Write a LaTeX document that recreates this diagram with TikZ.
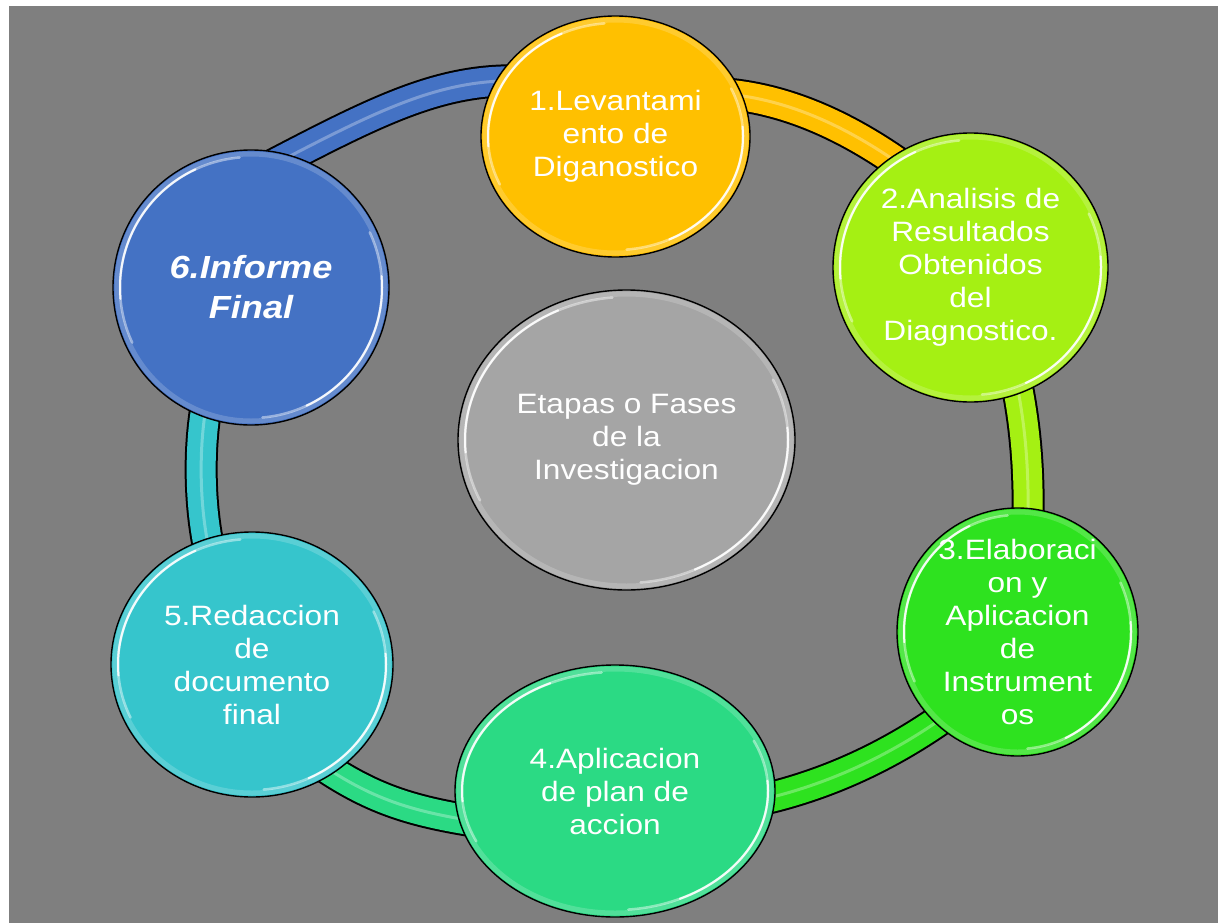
\documentclass[tikz,border=0pt]{standalone}
\usepackage{fontspec}
\setmainfont{Liberation Sans}[FakeStretch=1.13]
\usetikzlibrary{shapes.geometric,calc}
\definecolor{cbg}{HTML}{7F7F7F}
\definecolor{corange}{HTML}{FFC000}
\definecolor{clime}{HTML}{A5F013}
\definecolor{cgreen}{HTML}{2EE21F}
\definecolor{caqua}{HTML}{2BDA84}
\definecolor{cteal}{HTML}{36C5CC}
\definecolor{cblue}{HTML}{4472C4}
\definecolor{cgray}{HTML}{A5A5A5}
\pgfdeclarelayer{back}
\pgfdeclarelayer{tubes}
\pgfsetlayers{back,tubes,main}
\tikzset{
  bubble/.style={ellipse, draw=black, line width=1.4pt, inner sep=0pt, text=white,
    align=center, font=\fontsize{28}{33}\selectfont},
  tubeline/.style={line width=2pt, draw=black, double distance=29pt,
    shorten <=-20pt, shorten >=-20pt},
  tubeshine/.style={line width=3pt, opacity=0.45, shorten <=-20pt, shorten >=-20pt},
  glow/.style={draw=white, line width=5pt, opacity=0.18},
  glossA/.style={draw=white, line width=2.5pt, opacity=0.45, line cap=round},
  glossB/.style={draw=white, line width=2pt, opacity=0.9, line cap=round},
}
\newcommand\tubeseg[2]{%
  \draw[tubeline, double=#1] #2;
  \draw[tubeshine, draw=#1!35!white] #2;
}
\newcommand\gloss[3]{%
  \draw[glow] (#1.center) ellipse[x radius={#2-4}, y radius={#3-4}];
  \draw[glossA] ($(#1.center)+({(#2-7)*cos(-95)},{(#3-7)*sin(-95)})$)
     arc[start angle=-95, end angle=-205, x radius={#2-7}, y radius={#3-7}];
  \draw[glossB] ($(#1.center)+({(#2-7)*cos(-115)},{(#3-7)*sin(-115)})$)
     arc[start angle=-115, end angle=-185, x radius={#2-7}, y radius={#3-7}];
  \draw[glossA] ($(#1.center)+({(#2-7)*cos(-275)},{(#3-7)*sin(-275)})$)
     arc[start angle=-275, end angle=-385, x radius={#2-7}, y radius={#3-7}];
  \draw[glossB] ($(#1.center)+({(#2-7)*cos(-295)},{(#3-7)*sin(-295)})$)
     arc[start angle=-295, end angle=-365, x radius={#2-7}, y radius={#3-7}];
}
\begin{document}
\begin{tikzpicture}[x=1pt,y=-1pt]
\begin{pgfonlayer}{back}
  \fill[white] (0,0) rectangle (1225,923);
  \fill[cbg] (9,6) rectangle (1218,923);
\end{pgfonlayer}

\node[bubble, fill=corange, minimum width=269pt, minimum height=241pt] (n1) at (615.5,136.5)
  {1.Levantami\\ento de\\Diganostico};
\node[bubble, fill=clime, minimum width=275pt, minimum height=269pt] (n2) at (970.5,267.5)
  {2.Analisis de\\Resultados\\Obtenidos\\del\\Diagnostico.};
\node[bubble, fill=cgreen, minimum width=241pt, minimum height=248pt, inner ysep=-15pt] (n3) at (1017.5,632)
  {3.Elaboraci\\on y\\Aplicacion\\de\\Instrument\\os};
\node[bubble, fill=caqua, minimum width=320pt, minimum height=252pt] (n4) at (615,791)
  {4.Aplicacion\\de plan de\\accion};
\node[bubble, fill=cteal, minimum width=282pt, minimum height=265pt] (n5) at (252,664.5)
  {5.Redaccion\\de\\documento\\final};
\node[bubble, fill=cblue, minimum width=276pt, minimum height=275pt,
  font=\fontsize{32}{40}\selectfont\bfseries\itshape] (n6) at (251,287.5)
  {6.Informe\\Final};
\node[bubble, fill=cgray, minimum width=337pt, minimum height=300pt] (nc) at (626.5,440)
  {Etapas o Fases\\de la\\Investigacion};

\gloss{n1}{134.5}{120.5}
\gloss{n2}{137.5}{134.5}
\gloss{n3}{120.5}{124}
\gloss{n4}{160}{126}
\gloss{n5}{141}{132.5}
\gloss{n6}{138}{137.5}
\gloss{nc}{168.5}{150}

\begin{pgfonlayer}{tubes}
  \tubeseg{cblue}{(n6.73) .. controls (380,109) and (440,80) .. (n1.155)}
  \tubeseg{corange}{(n1.18) .. controls (792,99) and (854,131) .. (n2.126)}
  \tubeseg{clime}{(n2.291) .. controls (1027,430) and (1029,480) .. (n3.85)}
  \tubeseg{cgreen}{(n3.228) .. controls (889,757) and (824,786) .. (n4.358)}
  \tubeseg{caqua}{(n4.190) .. controls (409,811) and (370,798) .. (n5.307)}
  \tubeseg{cteal}{(n5.110) .. controls (199,510) and (198,445) .. (n6.250)}
\end{pgfonlayer}
\end{tikzpicture}
\end{document}
